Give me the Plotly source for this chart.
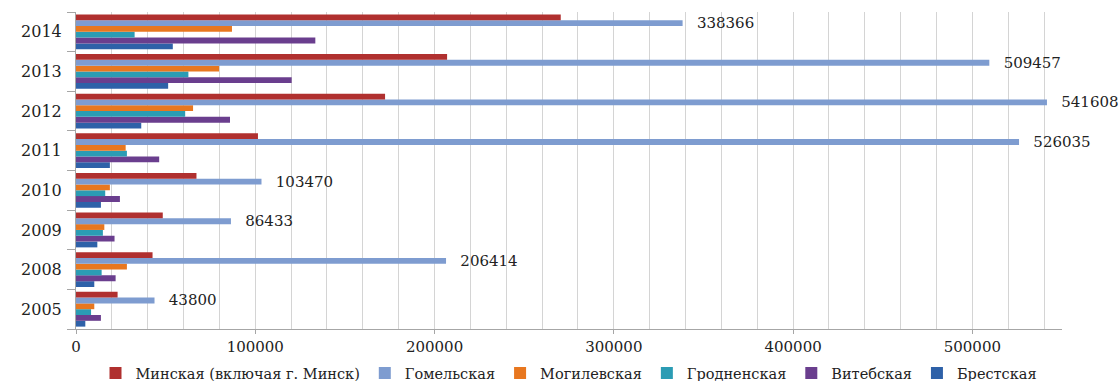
import plotly.graph_objects as go

years = ["2005", "2008", "2009", "2010", "2011", "2012", "2013", "2014"]

minsk = [23200, 42700, 48400, 67200, 101500, 172400, 207000, 270400]
gomel = [43800, 206414, 86433, 103470, 526035, 541608, 509457, 338366]
mogilev = [10200, 28400, 15800, 18900, 27700, 65300, 79800, 87000]
grodno = [8400, 14300, 15000, 16300, 28400, 60900, 62700, 32700]
vitebsk = [13900, 22100, 21500, 24500, 46400, 85900, 120300, 133500]
brest = [5200, 10200, 11900, 13900, 18900, 36400, 51400, 54000]

series_names = ["Минская (включая г. Минск)", "Гомельская", "Могилевская",
                "Гродненская", "Витебская", "Брестская"]
series_values = [minsk, gomel, mogilev, grodno, vitebsk, brest]
series_colors = ["#B0302F", "#7E9CD0", "#E8771F", "#2B9CB4", "#6A3E8E", "#2E61A8"]

FONT = "DejaVu Serif, Liberation Serif, serif"

fig = go.Figure()
# add in reverse so that the first series sits on top of each group
for name, vals, col in reversed(list(zip(series_names, series_values, series_colors))):
    kw = {}
    if name == "Гомельская":
        kw = dict(text=[str(v) for v in vals], textposition="outside",
                  texttemplate="   %{text}",
                  textfont=dict(family=FONT, size=15, color="#222222"),
                  constraintext="none", cliponaxis=False)
    fig.add_trace(go.Bar(
        y=years, x=vals, name=name, orientation="h",
        marker=dict(color=col, line=dict(width=0)),
        hoverinfo="x+name", **kw))

fig.update_layout(
    width=1119, height=381,
    margin=dict(l=76, r=57, t=12, b=52, autoexpand=False),
    paper_bgcolor="white", plot_bgcolor="white",
    barmode="group", bargap=0.12, bargroupgap=0,
    font=dict(family=FONT, size=14, color="#222222"),
    showlegend=True,
    legend=dict(orientation="h", x=0.5, xanchor="center", y=-0.139, yanchor="middle",
                traceorder="reversed", font=dict(family=FONT, size=14.5),
                itemwidth=30, tracegroupgap=0),
    xaxis=dict(range=[0, 550000], dtick=100000, tick0=0,
               showgrid=True, gridcolor="#D4D4D4", gridwidth=1,
               minor=dict(dtick=20000, showgrid=True, gridcolor="#D4D4D4", gridwidth=1),
               showline=True, linecolor="#A6A6A6", linewidth=1,
               ticks="outside", ticklen=4, tickcolor="#A6A6A6",
               tickformat="d", zeroline=False,
               tickfont=dict(family=FONT, size=15, color="#222222")),
    yaxis=dict(type="category", categoryorder="array", categoryarray=years,
               showgrid=False, showline=True, linecolor="#A6A6A6", linewidth=1,
               ticks="outside", ticklen=8, tickcolor="#A6A6A6", tickson="boundaries",
               ticklabelstandoff=10,
               tickfont=dict(family=FONT, size=16, color="#222222")),
)

fig.write_html("out.html")
